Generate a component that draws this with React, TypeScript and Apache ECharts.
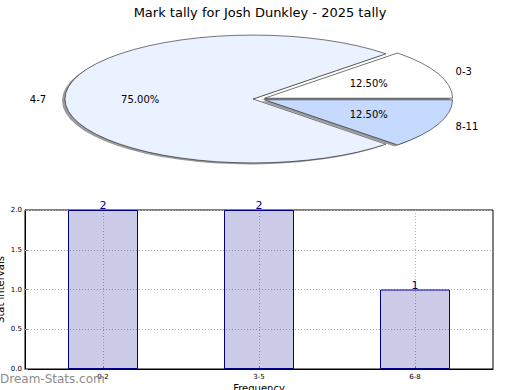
import React, { useEffect, useRef } from "react";
import * as echarts from "echarts";

const titleText = "Mark tally for Josh Dunkley - 2025 tally";
const pieLabels = ["0-3", "4-7", "8-11"];
const pieValues = [1, 6, 1];
const pieColors = ["#ffffff", "#ebf2ff", "#c6d9fe"];

const barCategories = ["0-2", "3-5", "6-8"];
const barValues = [2, 2, 1];
const yMin = 0;
const yMax = 2;
const yInterval = 0.5;

// pie layout (style constants)
const CX = 259;
const CY = 99;
const RX = 188;
const RY = 64;
const EXPLODE = 0.032;
const SHADOW_DX = -3;
const SHADOW_DY = 1.5;
const FONT = "DejaVu Sans";

function wedgeGeom(i: number) {
  const total = pieValues.reduce((a, b) => a + b, 0);
  let cum = 0;
  for (let k = 0; k < i; k++) cum += pieValues[k];
  const a1 = (cum / total) * 2 * Math.PI;
  const a2 = ((cum + pieValues[i]) / total) * 2 * Math.PI;
  const mid = (a1 + a2) / 2;
  const ox = EXPLODE * RX * Math.cos(mid);
  const oy = -EXPLODE * RX * Math.sin(mid);
  return { a1, a2, mid, ox, oy, pct: (pieValues[i] / total) * 100 };
}

function wedgeElement(i: number, dx: number, dy: number, style: any) {
  const g = wedgeGeom(i);
  return {
    type: "group",
    x: CX + dx,
    y: CY + dy,
    scaleY: RY / RX,
    children: [
      {
        type: "sector",
        shape: {
          cx: g.ox,
          cy: g.oy,
          r: RX,
          r0: 0,
          startAngle: -g.a2,
          endAngle: -g.a1,
          clockwise: true,
        },
        style,
      },
    ],
  };
}

export default function App() {
  const ref = useRef<HTMLDivElement>(null);
  useEffect(() => {
    if (!ref.current) return;
    const chart = echarts.init(ref.current, undefined, { renderer: "svg" });
    const pieData = pieValues.map((v, i) => [i, v]);
    chart.setOption({
      animation: false,
      textStyle: { fontFamily: FONT },
      title: {
        text: titleText,
        left: "center",
        top: 1,
        textStyle: { fontSize: 13, fontWeight: "normal", color: "#000", fontFamily: FONT },
      },
      graphic: [
        {
          type: "text",
          left: 0,
          top: 373,
          z: 100,
          style: { text: "Dream-Stats.com", fill: "#8c8c8c", font: `12px ${FONT}` },
        },
      ],
      grid: {
        left: 25,
        right: 27,
        top: 210,
        bottom: 21,
        containLabel: false,
        outerBoundsMode: "none",
        show: true,
        borderColor: "#000",
        borderWidth: 1,
        backgroundColor: "transparent",
      },
      xAxis: {
        type: "category",
        data: barCategories,
        name: "Frequency",
        nameLocation: "middle",
        nameGap: 14,
        nameMoveOverlap: false,
        nameTextStyle: { fontSize: 10, color: "#000" },
        axisLine: { lineStyle: { color: "#000", width: 1 } },
        axisTick: { show: true, inside: true, alignWithLabel: true, length: 3, lineStyle: { color: "#888" } },
        axisLabel: { fontSize: 7, color: "#000", margin: 4 },
        splitLine: {
          show: true,
          alignWithLabel: true,
          interval: 0,
          lineStyle: { color: "#b4b4b4", type: [1, 2], width: 1 },
        },
      },
      yAxis: {
        type: "value",
        min: yMin,
        max: yMax,
        interval: yInterval,
        name: "Stat intervals",
        nameLocation: "middle",
        nameGap: 20,
        nameMoveOverlap: false,
        nameTextStyle: { fontSize: 10, color: "#000" },
        axisLine: { show: true, lineStyle: { color: "#000", width: 1 } },
        axisTick: { show: true, inside: true, length: 3, lineStyle: { color: "#888" } },
        axisLabel: { fontSize: 7, color: "#000", margin: 3, formatter: (v: number) => v.toFixed(1) },
        splitLine: { show: true, lineStyle: { color: "#b4b4b4", type: [1, 2], width: 1 } },
      },
      series: [
        {
          type: "bar",
          data: barValues,
          barWidth: 70,
          itemStyle: { color: "rgba(0,0,139,0.2)", borderColor: "#00008b", borderWidth: 1 },
          label: { show: true, position: "top", distance: -1, color: "#00008b", fontSize: 11 },
          z: 2,
        },
        {
          type: "custom",
          coordinateSystem: "none",
          silent: true,
          z: 1,
          data: pieData,
          renderItem: (params: any) =>
            wedgeElement(params.dataIndex, SHADOW_DX, SHADOW_DY, {
              fill: "#8a8a8a",
              opacity: 0.85,
              stroke: null,
            }),
        },
        {
          type: "custom",
          coordinateSystem: "none",
          silent: true,
          z: 2,
          data: pieData,
          renderItem: (params: any) =>
            wedgeElement(params.dataIndex, 0, 0, {
              fill: pieColors[params.dataIndex],
              stroke: "#000",
              lineWidth: 0.8,
              strokeNoScale: true,
            }),
        },
        {
          type: "custom",
          coordinateSystem: "none",
          silent: true,
          z: 3,
          data: pieData,
          renderItem: (params: any) => {
            const i = params.dataIndex;
            const g = wedgeGeom(i);
            const ex = CX + g.ox;
            const ey = CY + g.oy * (RY / RX);
            const lx = ex + 1.1 * RX * Math.cos(g.mid);
            const ly = ey - 1.1 * RY * Math.sin(g.mid);
            const px = ex + 0.6 * RX * Math.cos(g.mid);
            const py = ey - 0.6 * RY * Math.sin(g.mid);
            return {
              type: "group",
              children: [
                {
                  type: "text",
                  x: lx,
                  y: ly,
                  style: {
                    text: pieLabels[i],
                    fill: "#000",
                    font: `10px ${FONT}`,
                    align: Math.cos(g.mid) >= 0 ? "left" : "right",
                    verticalAlign: "middle",
                  },
                },
                {
                  type: "text",
                  x: px,
                  y: py,
                  style: {
                    text: g.pct.toFixed(2) + "%",
                    fill: "#000",
                    font: `10px ${FONT}`,
                    align: "center",
                    verticalAlign: "middle",
                  },
                },
              ],
            };
          },
        },
      ],
    });
    return () => chart.dispose();
  }, []);
  return (
    <div
      ref={ref}
      style={{ position: "fixed", left: 0, top: 0, width: 520, height: 390, background: "#fff" }}
    />
  );
}
